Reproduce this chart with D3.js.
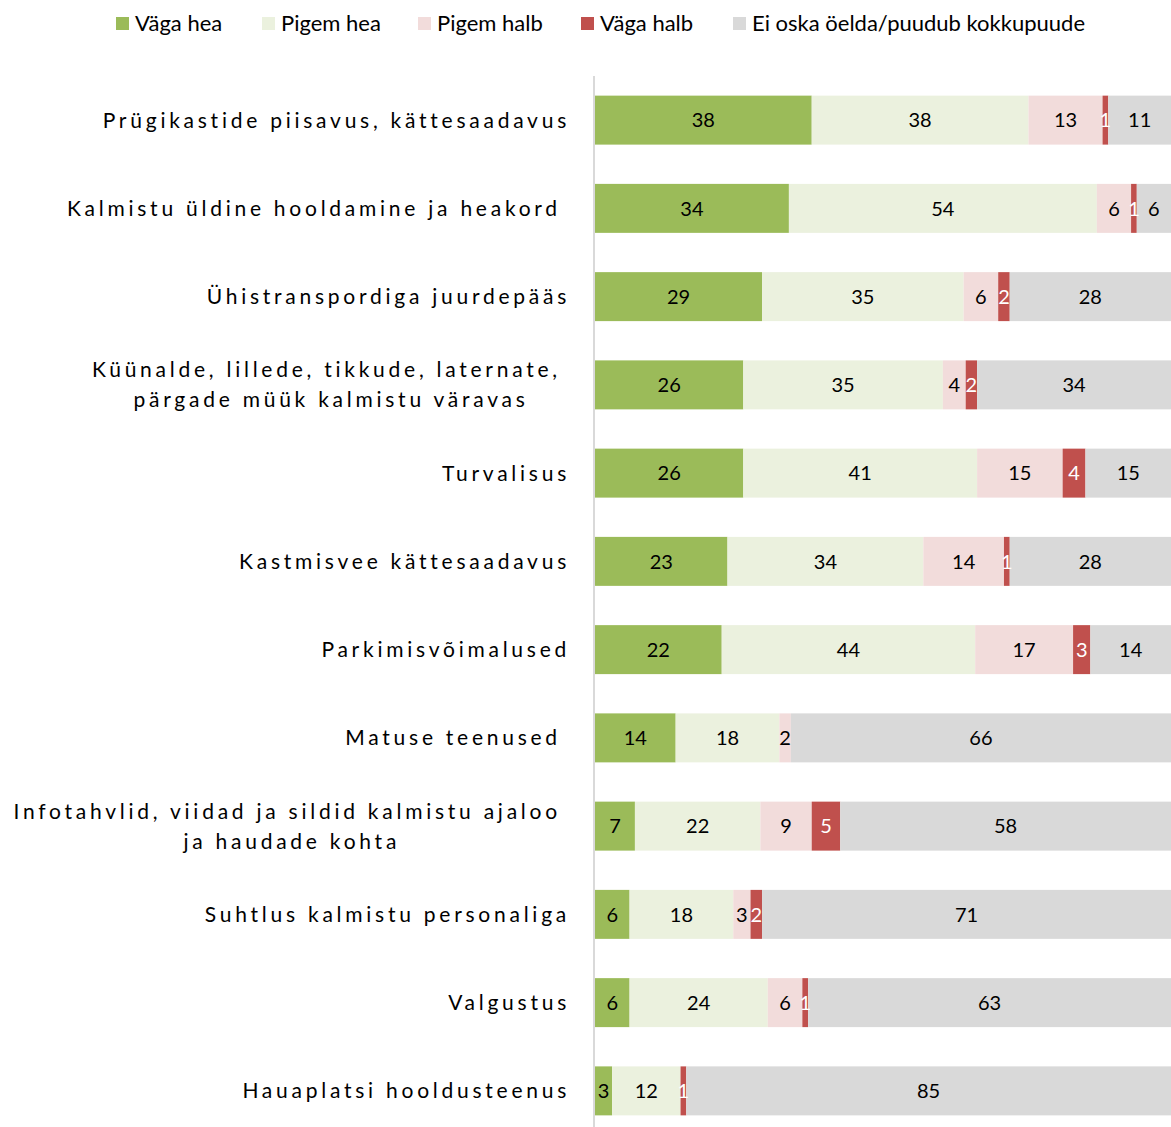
<!DOCTYPE html>
<html>
<head>
<meta charset="utf-8">
<script src="https://cdn.jsdelivr.net/npm/d3@7.9.0/dist/d3.min.js"></script>
<style>
  body { margin: 0; background: #fff; }
  svg { display: block; font-family: Lato, "Open Sans", sans-serif; }
  .lab { white-space: pre; }
</style>
</head>
<body>
<svg id="chart" width="1171" height="1127"></svg>
<script>
// categories (one row each, top to bottom); "\n" splits a label into two lines
const categories = [
  'Prügikastide piisavus, kättesaadavus',
  'Kalmistu üldine hooldamine ja heakord ',
  'Ühistranspordiga juurdepääs',
  'Küünalde, lillede, tikkude, laternate, \npärgade müük kalmistu väravas',
  'Turvalisus',
  'Kastmisvee kättesaadavus',
  'Parkimisvõimalused',
  'Matuse teenused ',
  'Infotahvlid, viidad ja sildid kalmistu ajaloo \nja haudade kohta',
  'Suhtlus kalmistu personaliga',
  'Valgustus',
  'Hauaplatsi hooldusteenus'
];

const seriesNames = ['Väga hea', 'Pigem hea', 'Pigem halb', 'Väga halb', 'Ei oska öelda/puudub kokkupuude'];
const seriesColors = ['#9BBB59', '#EBF1DE', '#F2DCDB', '#C0504D', '#D9D9D9'];

// percentages per series, same order as categories
const vagaHea   = [38, 34, 29, 26, 26, 23, 22, 14, 7, 6, 6, 3];
const pigemHea  = [38, 54, 35, 35, 41, 34, 44, 18, 22, 18, 24, 12];
const pigemHalb = [13, 6, 6, 4, 15, 14, 17, 2, 9, 3, 6, 0];
const vagaHalb  = [1, 1, 2, 2, 4, 1, 3, 0, 5, 2, 1, 1];
const eiOska    = [11, 6, 28, 34, 15, 28, 14, 66, 58, 71, 63, 85];

const seriesValues = [vagaHea, pigemHea, pigemHalb, vagaHalb, eiOska];

// build rows: each row is normalised to 100% like an Excel 100% stacked bar
const rows = categories.map((c, i) => {
  const vals = seriesValues.map(s => s[i]);
  const total = d3.sum(vals);
  let acc = 0;
  const segs = vals.map((v, k) => {
    const seg = { k, v, x0: acc / total, x1: (acc + v) / total };
    acc += v;
    return seg;
  });
  return { cat: c, segs };
});

const svg = d3.select('#chart');

const x = d3.scaleLinear().domain([0, 1]).range([595, 1171]);
const y = d3.scaleBand().domain(d3.range(categories.length)).range([76, 1135]).paddingInner(0.445).paddingOuter(0.2225);

// bars
const rowG = svg.append('g').selectAll('g')
  .data(rows)
  .join('g')
  .attr('transform', (d, i) => `translate(0,${y(i)})`);

rowG.selectAll('rect')
  .data(d => d.segs)
  .join('rect')
  .attr('x', d => x(d.x0))
  .attr('width', d => x(d.x1) - x(d.x0))
  .attr('height', y.bandwidth())
  .attr('fill', d => seriesColors[d.k]);

rowG.selectAll('text')
  .data(d => d.segs.filter(s => s.v > 0))
  .join('text')
  .attr('x', d => (x(d.x0) + x(d.x1)) / 2)
  .attr('y', y.bandwidth() / 2)
  .attr('dy', '0.36em')
  .attr('text-anchor', 'middle')
  .attr('font-size', 20)
  .attr('fill', d => d.k === 3 ? '#fff' : '#000')
  .text(d => d.v);

// vertical axis line
svg.append('line')
  .attr('x1', 594).attr('x2', 594)
  .attr('y1', 76).attr('y2', 1127)
  .attr('stroke', '#D9D9D9')
  .attr('stroke-width', 2);

// category labels, letter spaced, multi-line ones centered within their block
const labelRight = 570;
const lineH = 30;
categories.forEach((c, i) => {
  const lines = c.split('\n');
  const cy = y(i) + y.bandwidth() / 2;
  const g = svg.append('g');
  const texts = lines.map((l, j) => g.append('text')
    .attr('class', 'lab')
    .attr('font-size', 21)
    .attr('letter-spacing', 3.75)
    .attr('fill', '#000')
    .attr('y', cy + (j - (lines.length - 1) / 2) * lineH)
    .attr('dy', '0.36em')
    .text(l));
  const widths = texts.map(t => t.node().getComputedTextLength());
  const maxW = d3.max(widths);
  const center = labelRight - maxW / 2;
  texts.forEach((t, j) => t.attr('x', lines.length > 1 ? center - widths[j] / 2 : labelRight - widths[j]));
});

// legend
const legendX = [116, 262, 418, 581, 733];
const lg = svg.append('g').selectAll('g')
  .data(seriesNames)
  .join('g')
  .attr('transform', (d, i) => `translate(${legendX[i]},17)`);
lg.append('rect')
  .attr('width', 13).attr('height', 13)
  .attr('fill', (d, i) => seriesColors[i]);
lg.append('text')
  .attr('x', 19).attr('y', 6.5).attr('dy', '0.36em')
  .attr('font-size', 22)
  .attr('fill', '#000')
  .text(d => d);
</script>
</body>
</html>
